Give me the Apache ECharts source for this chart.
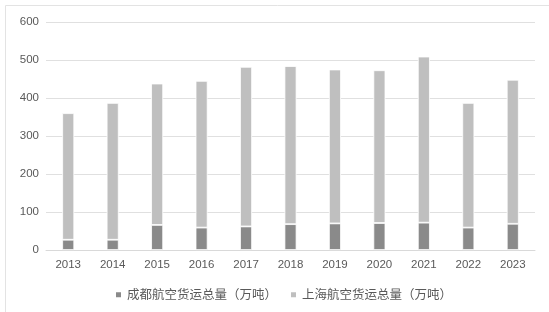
<!DOCTYPE html>
<html><head><meta charset="utf-8">
<script src="https://cdn.jsdelivr.net/npm/echarts@6/dist/echarts.min.js"></script>
<style>html,body{margin:0;padding:0;background:#fff}#c{width:549px;height:312px}</style>
</head><body><div id="c"></div>
<script>
const years = ['2013','2014','2015','2016','2017','2018','2019','2020','2021','2022','2023'];
const chengdu = [27, 27, 66, 59, 62, 68, 70, 71, 72, 59, 69];
const shanghai = [333, 360, 372, 386, 420, 416, 405, 402, 437, 328, 379];
const seriesNames = ['成都航空货运总量（万吨）', '上海航空货运总量（万吨）'];
const yTicks = { min: 0, max: 600, interval: 100 };

const chart = echarts.init(document.getElementById('c'), null, {renderer: 'canvas'});
const font = '"Liberation Sans", "Noto Sans CJK SC", sans-serif';
chart.setOption({
  animation: false,
  textStyle: { fontFamily: font },
  graphic: [
    { type: 'line', shape: { x1: 5.5, y1: 5.5, x2: 549, y2: 5.5 }, style: { stroke: '#e3e3e3', lineWidth: 1 } },
    { type: 'line', shape: { x1: 5.5, y1: 5.5, x2: 5.5, y2: 312 }, style: { stroke: '#e3e3e3', lineWidth: 1 } }
  ],
  grid: { left: 46, right: 14, top: 22, bottom: 62, containLabel: false },
  legend: {
    bottom: 6, left: 109,
    itemWidth: 7, itemHeight: 7, itemGap: 12,
    icon: 'rect',
    textStyle: { color: '#595959', fontSize: 12.5, fontFamily: '"Noto Sans CJK SC", sans-serif' },
    data: seriesNames
  },
  xAxis: {
    type: 'category', data: years,
    axisLine: { lineStyle: { color: '#d9d9d9', width: 1 } },
    axisTick: { show: false },
    axisLabel: { color: '#595959', fontSize: 11.5, margin: 9 }
  },
  yAxis: {
    type: 'value', min: yTicks.min, max: yTicks.max, interval: yTicks.interval,
    axisLine: { show: false }, axisTick: { show: false },
    axisLabel: { color: '#595959', fontSize: 11.5, margin: 7 },
    splitLine: { lineStyle: { color: '#e0e0e0', width: 1 } }
  },
  series: [
    { name: seriesNames[0], type: 'bar', stack: 't', data: chengdu, barWidth: 12,
      itemStyle: { color: '#8a8a8a', borderColor: '#fff', borderWidth: 0.8 } },
    { name: seriesNames[1], type: 'bar', stack: 't', data: shanghai, barWidth: 12,
      itemStyle: { color: '#bfbfbf', borderColor: '#fff', borderWidth: 0.8 } }
  ]
});
</script></body></html>
